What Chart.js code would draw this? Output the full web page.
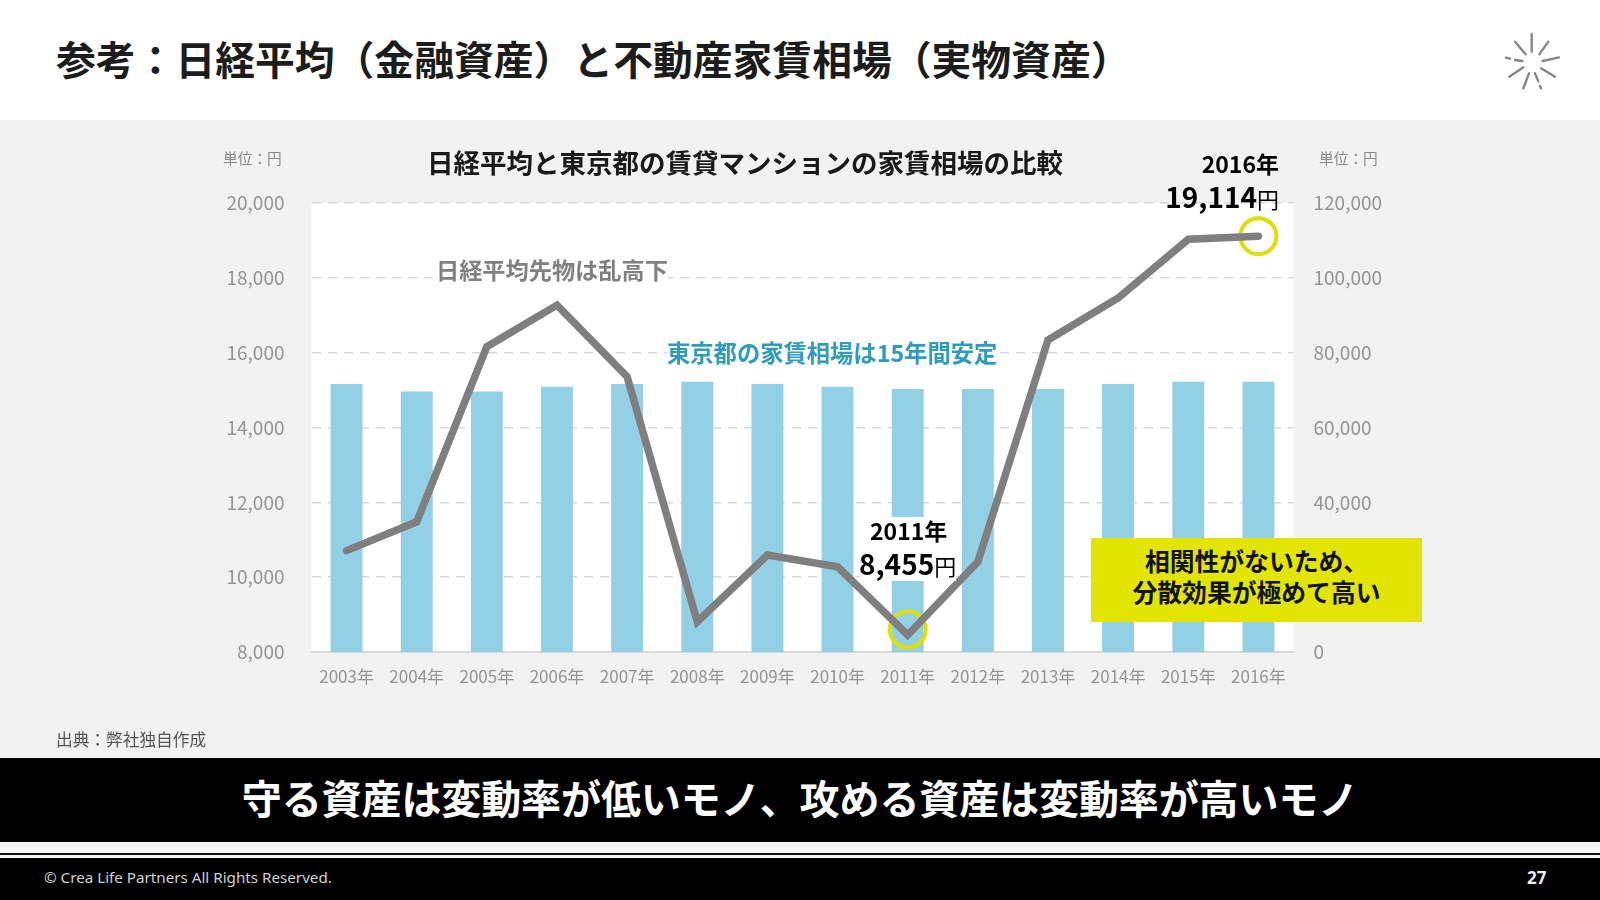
<!DOCTYPE html>
<html lang="ja">
<head>
<meta charset="utf-8">
<title>日経平均と家賃相場</title>
<script src="https://cdn.jsdelivr.net/npm/chart.js@4"></script>
<style>
  html, body { margin: 0; padding: 0; background: #fff; }
  body { position: relative; width: 1600px; height: 900px; overflow: hidden; font-family: "Noto Sans CJK JP", sans-serif; }
  .abs { position: absolute; white-space: nowrap; line-height: 1; }
  #panel { position: absolute; left: 0; top: 120px; width: 1600px; height: 638px; background: #f2f2f2; }
  #chart { position: absolute; left: 0; top: 120px; }
  #pageTitle { left: 56px; top: 38px; font-size: 39.8px; font-weight: 700; color: #1c1c1c; }
  #icon { position: absolute; left: 1460px; top: 10px; filter: blur(0.6px); }
  .unit { top: 151px; font-size: 14.7px; color: #8a8a8a; }
  #chartTitle { left: 427px; top: 149px; font-size: 26.5px; font-weight: 700; color: #1a1a1a; }
  .note { background: #fff; font-size: 23px; font-weight: 700; }
  #noteNikkei { left: 436px; top: 258px; color: #808080; font-size: 23.2px; }
  #noteRent { left: 667px; top: 341px; color: #2f9cbd; font-size: 23.3px; }
  .big { font-weight: 700; color: #000; font-size: 28px; }
  .big small { font-size: 22px; font-weight: 400; }
  .year { font-weight: 700; color: #000; font-size: 23px; }
  #y2016 { right: 321px; top: 152px; }
  #v2016 { right: 321px; top: 182px; }
  #box2011 { position: absolute; left: 860px; top: 517px; width: 96px; height: 64px; background: #fff; }
  #y2011 { left: 870px; top: 519px; }
  #v2011 { left: 859px; top: 549px; }
  #callout { position: absolute; left: 1091px; top: 538px; width: 331px; height: 84px; background: #e2e500; color: #111;
    font-size: 24.8px; font-weight: 700; line-height: 31px; text-align: center; padding-top: 7px; box-sizing: border-box; }
  #source { left: 56px; top: 731px; font-size: 16.7px; color: #555; }
  #band { position: absolute; left: 0; top: 758px; width: 1600px; height: 84px; background: #000; color: #fff;
    font-size: 40px; font-weight: 700; line-height: 79px; text-align: center; letter-spacing: -0.1px; }
  #strip { position: absolute; left: 0; top: 842px; width: 1600px; height: 16px; background: #f4f4f4; }
  #rule { position: absolute; left: 0; top: 853px; width: 1600px; height: 2px; background: #111; }
  #footer { position: absolute; left: 0; top: 858px; width: 1600px; height: 42px; background: #000; }
  #copyright { left: 44px; top: 870px; font-size: 15.2px; color: #d0d0d0; font-family: "Noto Sans", sans-serif; }
  #pageNo { left: 1527px; top: 869px; font-size: 17px; font-weight: 700; color: #eee; font-family: "Noto Sans", sans-serif; }
</style>
</head>
<body>
<div id="panel"></div>
<canvas id="chart" width="1600" height="638"></canvas>

<div class="abs" id="pageTitle">参考：日経平均（金融資産）と不動産家賃相場（実物資産）</div>
<svg id="icon" width="140" height="110" viewBox="0 0 420 330" stroke="#858585" stroke-width="7" stroke-linecap="round">
  <line x1="215" y1="72" x2="215" y2="125"/>
  <line x1="165" y1="95" x2="197" y2="133"/>
  <line x1="265" y1="95" x2="238" y2="133"/>
  <line x1="138" y1="143" x2="150" y2="146"/>
  <line x1="165" y1="150" x2="187" y2="153"/>
  <line x1="297" y1="142" x2="248" y2="153"/>
  <line x1="190" y1="172" x2="148" y2="200"/>
  <line x1="243" y1="175" x2="285" y2="200"/>
  <line x1="207" y1="190" x2="190" y2="235"/>
  <line x1="225" y1="190" x2="235" y2="214"/>
  <line x1="240" y1="228" x2="243" y2="235"/>
</svg>

<div class="abs unit" style="left:223px">単位：円</div>
<div class="abs unit" style="left:1319px">単位：円</div>
<div class="abs" id="chartTitle">日経平均と東京都の賃貸マンションの家賃相場の比較</div>
<div class="abs note" id="noteNikkei">日経平均先物は乱高下</div>
<div class="abs note" id="noteRent">東京都の家賃相場は15年間安定</div>
<div class="abs year" id="y2016">2016年</div>
<div class="abs big" id="v2016">19,114<small>円</small></div>
<div id="box2011"></div>
<div class="abs year" id="y2011">2011年</div>
<div class="abs big" id="v2011">8,455<small>円</small></div>
<div id="callout">相関性がないため、<br>分散効果が極めて高い</div>
<div class="abs" id="source">出典：弊社独自作成</div>

<div id="band">守る資産は変動率が低いモノ、攻める資産は変動率が高いモノ</div>
<div id="strip"></div>
<div id="rule"></div>
<div id="footer"></div>
<div class="abs" id="copyright">© Crea Life Partners All Rights Reserved.</div>
<div class="abs" id="pageNo">27</div>

<script>
// Data
const years = ['2003年','2004年','2005年','2006年','2007年','2008年','2009年','2010年','2011年','2012年','2013年','2014年','2015年','2016年'];
const nikkei = [10710, 11480, 16160, 17270, 15360, 8810, 10590, 10280, 8455, 10410, 16340, 17460, 19030, 19114];
const rent = [71600, 69600, 69600, 70900, 71600, 72200, 71600, 70900, 70300, 70300, 70300, 71600, 72200, 72200];
const highlight = [null, null, null, null, null, null, null, null, 8600, null, null, null, null, 19114];

const gridColour = "#d9d9d9";
const tickColour = "#959595";
const tickFamily = '"Noto Sans CJK JP", sans-serif';

// white plot background, the panel round it stays grey
const plotBackground = {
    id: 'plotBackground',
    beforeDraw(chart) {
        const a = chart.chartArea;
        chart.ctx.save();
        chart.ctx.fillStyle = "#ffffff";
        chart.ctx.fillRect(a.left, a.top, a.right - a.left, a.bottom - a.top);
        chart.ctx.restore();
    }
};

const numberLabel = function(value) {
    return value.toLocaleString('en-US');
};

new Chart(document.getElementById('chart'), {
    type: 'bar',
    data: {
        labels: years,
        datasets: [
            {
                type: 'line',
                label: '日経平均',
                data: nikkei,
                yAxisID: 'yLeft',
                order: 1,
                borderColor: "#7f7f7f",
                borderWidth: 7.5,
                borderCapStyle: 'round',
                borderJoinStyle: 'miter',
                tension: 0,
                pointRadius: 0
            },
            {
                type: 'line',
                label: '注目点',
                data: highlight,
                yAxisID: 'yLeft',
                order: 2,
                showLine: false,
                pointRadius: 18,
                pointBorderWidth: 4,
                pointBorderColor: "#dde000",
                pointBackgroundColor: "rgba(0,0,0,0)"
            },
            {
                type: 'bar',
                label: '家賃相場',
                data: rent,
                yAxisID: 'yRight',
                order: 3,
                backgroundColor: "#92d0e6",
                barPercentage: 1,
                categoryPercentage: 0.455
            }
        ]
    },
    options: {
        responsive: false,
        animation: false,
        layout: { padding: { left: 201.5, right: 206.5, top: 83, bottom: 56 } },
        plugins: { legend: { display: false }, tooltip: { enabled: false } },
        scales: {
            x: {
                grid: { display: false },
                border: { display: true, color: gridColour, width: 2 },
                ticks: { color: tickColour, font: { family: tickFamily, size: 17 }, padding: 6, maxRotation: 0, autoSkip: false },
                afterFit(scale) { scale.height = 50; }
            },
            yLeft: {
                position: 'left',
                min: 8000,
                max: 20000,
                grid: { color: gridColour, lineWidth: 1.5, drawTicks: false },
                border: { display: false, dash: [9, 7] },
                ticks: { stepSize: 2000, color: tickColour, font: { family: tickFamily, size: 19 }, padding: 27, callback: numberLabel },
                afterFit(scale) { scale.width = 110; }
            },
            yRight: {
                position: 'right',
                min: 0,
                max: 120000,
                grid: { display: false, drawTicks: false },
                border: { display: false },
                ticks: { stepSize: 20000, color: tickColour, font: { family: tickFamily, size: 19 }, padding: 20, callback: numberLabel },
                afterFit(scale) { scale.width = 100; }
            }
        }
    },
    plugins: [plotBackground]
});
</script>
</body>
</html>
